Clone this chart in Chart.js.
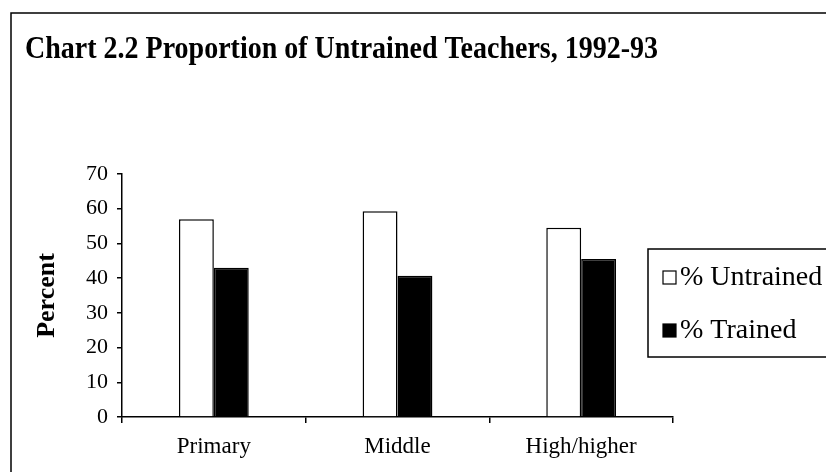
<!DOCTYPE html>
<html>
<head>
<meta charset="utf-8">
<script src="https://cdn.jsdelivr.net/npm/chart.js@4"></script>
<style>
  html, body { margin: 0; padding: 0; background: #fff; }
  #wrap { width: 826px; height: 472px; }
</style>
</head>
<body>
<div id="wrap"><canvas id="myChart" width="826" height="472"></canvas></div>
<script>
const labels = ['Primary', 'Middle', 'High/higher'];
const untrained = [57, 59.3, 54.5];
const trained = [43, 40.7, 45.5];
const yTicks = [0, 10, 20, 30, 40, 50, 60, 70];

const serif = "'Liberation Serif', 'Times New Roman', serif";

// frame, title and the boxed legend on the right
const decor = {
  id: 'decor',
  afterDraw(chart) {
    const ctx = chart.ctx;
    ctx.save();
    ctx.strokeStyle = '#000';
    ctx.lineWidth = 1.5;
    ctx.strokeRect(11, 13, 840, 480);

    // scanned title looks a bit tall for its width
    ctx.save();
    ctx.translate(25, 58);
    ctx.scale(1, 1.12);
    ctx.fillStyle = '#000';
    ctx.font = 'bold 28px ' + serif;
    ctx.textBaseline = 'alphabetic';
    ctx.fillText('Chart 2.2 Proportion of Untrained Teachers, 1992-93', 0, 0);
    ctx.restore();

    ctx.strokeRect(648, 249, 200, 108);
    const rows = [277, 330];
    ctx.font = '28px ' + serif;
    ctx.textBaseline = 'middle';
    chart.data.datasets.forEach((ds, i) => {
      const y = rows[i];
      ctx.fillStyle = ds.backgroundColor;
      ctx.fillRect(663, y - 6, 13, 13);
      ctx.lineWidth = 1.2;
      ctx.strokeRect(663, y - 6, 13, 13);
      ctx.fillStyle = '#000';
      ctx.fillText(ds.label, 680, y + 1);
    });
    ctx.restore();
  }
};

const data = {
  labels: labels,
  datasets: [
    {
      label: '% Untrained',
      data: untrained,
      backgroundColor: '#ffffff',
      borderColor: '#000000',
      borderWidth: 1.5
    },
    {
      label: '% Trained',
      data: trained,
      backgroundColor: '#000000',
      borderColor: '#000000',
      borderWidth: 1.5
    }
  ]
};

const config = {
  type: 'bar',
  data: data,
  plugins: [decor],
  options: {
    responsive: false,
    animation: false,
    layout: { padding: { left: 0, right: 153, top: 174, bottom: 0 } },
    categoryPercentage: 0.38,
    barPercentage: 1.0,
    plugins: {
      legend: { display: false },
      title: { display: false },
      tooltip: { enabled: false }
    },
    scales: {
      x: {
        afterFit(s) { s.height = 55; },
        grid: { drawOnChartArea: false, drawTicks: true, tickLength: 6, color: '#000', lineWidth: 1.5 },
        border: { display: true, color: '#000', width: 1.5 },
        ticks: { color: '#000', font: { family: serif, size: 23 }, padding: 10 }
      },
      y: {
        min: 0,
        max: 70,
        afterFit(s) { s.width = 122; },
        afterBuildTicks(s) { s.ticks = yTicks.map(v => ({ value: v })); },
        grid: { drawOnChartArea: false, drawTicks: true, tickLength: 5, color: '#000', lineWidth: 1.5 },
        border: { display: true, color: '#000', width: 1.5 },
        ticks: { color: '#000', font: { family: serif, size: 22 }, padding: 9 },
        title: {
          display: true,
          text: 'Percent',
          color: '#000',
          font: { family: serif, size: 26, weight: 'bold' },
          padding: { top: 32, bottom: 0 }
        }
      }
    }
  }
};

var myChart = new Chart(document.getElementById('myChart'), config);
</script>
</body>
</html>
